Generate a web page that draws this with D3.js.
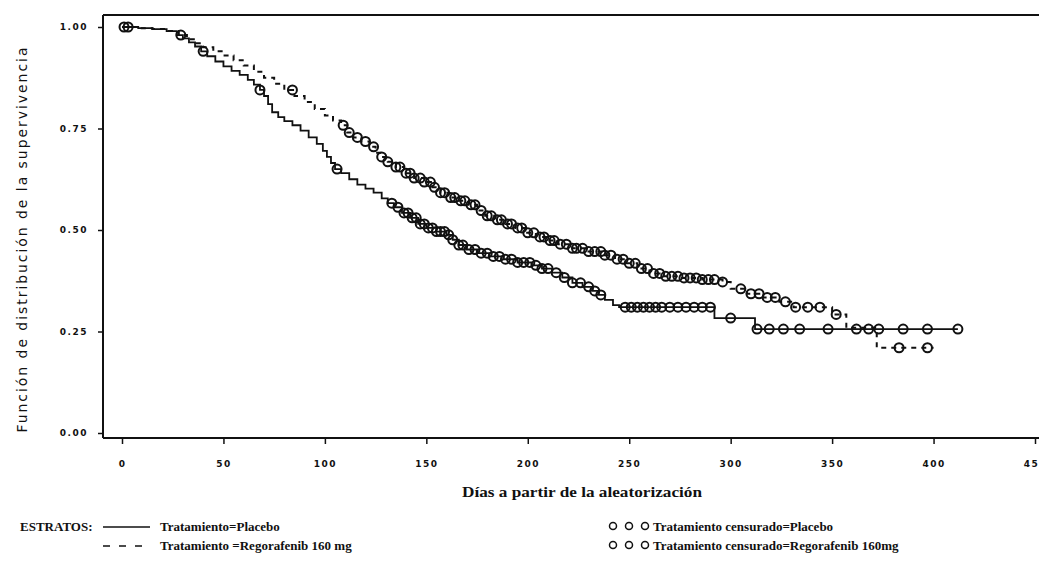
<!DOCTYPE html>
<html>
<head>
<meta charset="utf-8">
<script src="https://cdn.jsdelivr.net/npm/d3@7"></script>
<style>
  html, body { margin: 0; padding: 0; background: #fff; }
  svg { display: block; }
</style>
</head>
<body>
<svg id="chart" width="1039" height="563"></svg>
<script>
// ---------- DATA ----------
const xTicks = [0, 50, 100, 150, 200, 250, 300, 350, 400, 450];
const yTicks = [0, 0.25, 0.5, 0.75, 1.0];

// Placebo Kaplan-Meier steps (day, survival after step)
const placeboTimes = [0, 8, 15, 22, 27, 30, 33, 36, 39, 42, 46, 50, 54, 58, 62, 65, 68, 70, 72, 74, 77, 80, 84, 88, 92, 96, 99, 101, 103, 105, 108, 112, 116, 120, 124, 128, 131, 134, 138, 142, 146, 150, 155, 160, 163, 166, 170, 175, 181, 188, 195, 202, 207, 212, 217, 222, 227, 232, 235, 238, 242, 245, 292, 312];
const placeboSurv  = [1.0, 0.997, 0.995, 0.99, 0.98, 0.972, 0.962, 0.952, 0.94, 0.928, 0.915, 0.903, 0.892, 0.882, 0.87, 0.858, 0.845, 0.83, 0.81, 0.79, 0.778, 0.768, 0.758, 0.745, 0.728, 0.712, 0.695, 0.68, 0.665, 0.65, 0.64, 0.625, 0.612, 0.602, 0.592, 0.578, 0.566, 0.556, 0.542, 0.53, 0.515, 0.505, 0.496, 0.488, 0.476, 0.463, 0.452, 0.443, 0.435, 0.428, 0.42, 0.413, 0.405, 0.395, 0.383, 0.37, 0.36, 0.35, 0.34, 0.328, 0.315, 0.31, 0.283, 0.256];
const placeboEnd = 412;
const placeboCensor = [1, 29, 40, 68, 106, 133, 136, 139, 141, 143, 145, 147, 149, 151, 153, 155, 157, 159, 161, 163, 166, 168, 171, 174, 177, 180, 183, 186, 189, 192, 195, 198, 201, 204, 207, 210, 214, 218, 222, 226, 230, 233, 236, 248, 251, 254, 257, 260, 263, 266, 270, 274, 278, 282, 286, 290, 300, 313, 319, 326, 334, 348, 362, 368, 373, 385, 397, 412];

// Regorafenib 160 mg Kaplan-Meier steps
const regoTimes = [0, 8, 15, 22, 28, 32, 36, 40, 45, 50, 55, 60, 65, 70, 75, 80, 85, 90, 95, 100, 104, 108, 111, 114, 118, 122, 125, 128, 131, 135, 139, 144, 149, 153, 157, 161, 166, 171, 175, 179, 184, 189, 194, 199, 204, 209, 215, 222, 229, 237, 243, 248, 254, 260, 266, 275, 286, 296, 300, 308, 316, 324, 331, 350, 357, 372];
const regoSurv  = [1.0, 0.997, 0.995, 0.99, 0.98, 0.97, 0.96, 0.95, 0.94, 0.93, 0.918, 0.905, 0.89, 0.875, 0.86, 0.845, 0.83, 0.815, 0.798, 0.782, 0.77, 0.758, 0.74, 0.728, 0.718, 0.705, 0.69, 0.68, 0.668, 0.655, 0.64, 0.628, 0.618, 0.605, 0.592, 0.58, 0.572, 0.562, 0.548, 0.535, 0.525, 0.515, 0.505, 0.493, 0.483, 0.474, 0.465, 0.455, 0.447, 0.438, 0.428, 0.418, 0.405, 0.393, 0.386, 0.382, 0.378, 0.372, 0.355, 0.343, 0.334, 0.323, 0.31, 0.292, 0.259, 0.21];
const regoEnd = 400;
const regoCensor = [3, 84, 109, 112, 116, 120, 124, 128, 131, 135, 137, 140, 142, 144, 147, 149, 152, 154, 157, 159, 162, 164, 167, 169, 172, 174, 177, 180, 182, 185, 187, 190, 192, 195, 197, 200, 203, 206, 208, 211, 213, 216, 219, 222, 224, 227, 230, 233, 236, 238, 241, 244, 247, 250, 253, 256, 259, 262, 265, 268, 271, 274, 277, 280, 283, 286, 289, 292, 296, 305, 310, 314, 318, 322, 327, 332, 338, 344, 352, 383, 397];

const legendStrata = ["Tratamiento=Placebo", "Tratamiento =Regorafenib 160 mg"];
const legendCensor = ["Tratamiento censurado=Placebo", "Tratamiento censurado=Regorafenib 160mg"];

// ---------- CHART ----------
const svg = d3.select("#chart");
const x = d3.scaleLinear().domain([0, 450]).range([122, 1035]);
const y = d3.scaleLinear().domain([0, 1]).range([433, 27]);

const frameLeft = 103, frameTop = 15, frameBottom = 438, frameRight = 1045;
const ink = "#111";

// Frame
svg.append("line").attr("x1", frameLeft).attr("x2", frameRight).attr("y1", frameTop).attr("y2", frameTop)
  .attr("stroke", ink).attr("stroke-width", 2);
svg.append("line").attr("x1", frameLeft).attr("x2", frameLeft).attr("y1", frameTop).attr("y2", frameBottom)
  .attr("stroke", ink).attr("stroke-width", 2);
svg.append("line").attr("x1", frameLeft).attr("x2", frameRight).attr("y1", frameBottom).attr("y2", frameBottom)
  .attr("stroke", ink).attr("stroke-width", 2);

// Y axis
const yAxis = d3.axisLeft(y).tickValues(yTicks).tickFormat(d3.format(".2f")).tickSize(5).tickPadding(10);
const gy = svg.append("g").attr("transform", `translate(${frameLeft},0)`).call(yAxis);
gy.select(".domain").remove();
gy.selectAll(".tick line").attr("stroke", ink).attr("stroke-width", 1.5);
gy.selectAll(".tick text").attr("fill", ink).style("font-family", "DejaVu Sans, sans-serif")
  .style("font-size", "9px").style("font-weight", "bold").style("letter-spacing", "1.5px");

// X axis
const xAxis = d3.axisBottom(x).tickValues(xTicks).tickFormat(d3.format("d")).tickSize(6).tickPadding(17);
const gx = svg.append("g").attr("transform", `translate(0,${frameBottom})`).call(xAxis);
gx.select(".domain").remove();
gx.selectAll(".tick line").attr("stroke", ink).attr("stroke-width", 1.5);
gx.selectAll(".tick text").attr("fill", ink).style("font-family", "DejaVu Sans, sans-serif")
  .style("font-size", "9px").style("font-weight", "bold").style("letter-spacing", "1.5px");

// Axis titles
svg.append("text")
  .attr("transform", "translate(27,240) rotate(-90)")
  .attr("text-anchor", "middle")
  .attr("fill", ink)
  .style("font-family", "DejaVu Sans, sans-serif")
  .style("font-size", "14px")
  .attr("textLength", 385).attr("lengthAdjust", "spacing")
  .text("Función de distribución de la supervivencia");

svg.append("text")
  .attr("x", 582).attr("y", 497)
  .attr("text-anchor", "middle")
  .attr("fill", ink)
  .style("font-family", "Liberation Serif, serif")
  .style("font-size", "15px").style("font-weight", "bold")
  .attr("textLength", 240).attr("lengthAdjust", "spacingAndGlyphs")
  .text("Días a partir de la aleatorización");

// Curves
function series(times, surv, end) {
  const pts = times.map((t, i) => [t, surv[i]]);
  pts.push([end, surv[surv.length - 1]]);
  return pts;
}
function survAt(times, surv, t) {
  const i = d3.bisectRight(times, t) - 1;
  return surv[Math.max(0, i)];
}
const line = d3.line().x(d => x(d[0])).y(d => y(d[1])).curve(d3.curveStepAfter);

const plot = svg.append("g");
plot.append("path").datum(series(placeboTimes, placeboSurv, placeboEnd))
  .attr("d", line).attr("fill", "none").attr("stroke", ink).attr("stroke-width", 1.8);
plot.append("path").datum(series(regoTimes, regoSurv, regoEnd))
  .attr("d", line).attr("fill", "none").attr("stroke", ink).attr("stroke-width", 2)
  .attr("stroke-dasharray", "5,5");

plot.selectAll("circle.pc").data(placeboCensor).join("circle").attr("class", "pc")
  .attr("cx", d => x(d)).attr("cy", d => y(survAt(placeboTimes, placeboSurv, d)))
  .attr("r", 4.5).attr("fill", "none").attr("stroke", ink).attr("stroke-width", 2);
plot.selectAll("circle.rc").data(regoCensor).join("circle").attr("class", "rc")
  .attr("cx", d => x(d)).attr("cy", d => y(survAt(regoTimes, regoSurv, d)))
  .attr("r", 4.5).attr("fill", "none").attr("stroke", ink).attr("stroke-width", 2);

// Legend
const legFont = "Liberation Serif, serif";
const rows = [527, 546];
svg.append("text").attr("x", 20).attr("y", rows[0] + 4).attr("fill", ink)
  .style("font-family", legFont).style("font-size", "13px").style("font-weight", "bold")
  .text("ESTRATOS:");
svg.append("line").attr("x1", 103).attr("x2", 150).attr("y1", rows[0]).attr("y2", rows[0])
  .attr("stroke", ink).attr("stroke-width", 1.5);
svg.append("line").attr("x1", 103).attr("x2", 150).attr("y1", rows[1]).attr("y2", rows[1])
  .attr("stroke", ink).attr("stroke-width", 1.5).attr("stroke-dasharray", "7,9");
legendStrata.forEach((t, i) => {
  svg.append("text").attr("x", 160).attr("y", rows[i] + 4).attr("fill", ink)
    .style("font-family", legFont).style("font-size", "13px").style("font-weight", "bold").text(t);
});
legendCensor.forEach((t, i) => {
  [613, 629, 645].forEach(cx => {
    svg.append("circle").attr("cx", cx).attr("cy", rows[i] - 1).attr("r", 3.5)
      .attr("fill", "none").attr("stroke", ink).attr("stroke-width", 1.5);
  });
  svg.append("text").attr("x", 653).attr("y", rows[i] + 4).attr("fill", ink)
    .style("font-family", legFont).style("font-size", "13px").style("font-weight", "bold").text(t);
});
</script>
</body>
</html>
